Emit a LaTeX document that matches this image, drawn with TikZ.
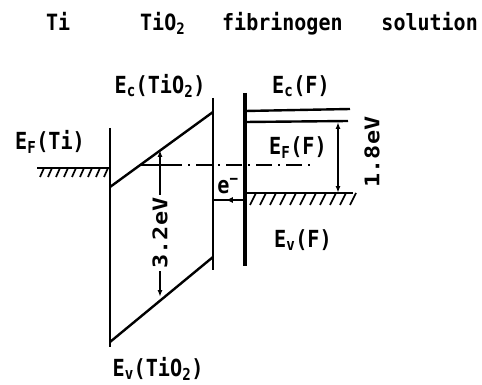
\documentclass[tikz,border=0pt]{standalone}
\usepackage{fontspec}
\newfontfamily\lab{DejaVu Sans Mono}
\usetikzlibrary{arrows.meta,decorations.markings}
\newcommand\sbs[1]{\textsubscript{#1}}
\begin{document}
\begin{tikzpicture}[x=1pt,y=-1pt,
  lbl/.style={font=\lab\bfseries\fontsize{21}{24}\selectfont, inner sep=0pt, xscale=0.96, yscale=1.12},
  ttl/.style={font=\lab\bfseries\fontsize{20}{24}\selectfont, inner sep=0pt, yscale=1.12},
  band/.style={line width=2.4pt},
  thickwall/.style={line width=3.4pt},
  hatch/.style={line width=1.7pt},
  fermi/.style={line width=1.6pt, dash pattern=on 16pt off 6pt on 2pt off 6pt},
  gaparrow/.style={line width=1.5pt, {Latex[length=7pt,width=5pt]}-{Latex[length=7pt,width=5pt]}},
  elarrow/.style={line width=1.7pt, postaction={decorate},
     decoration={markings, mark=at position 0.6 with {\arrow{Latex[length=7pt,width=6pt]}}}}
]
\useasboundingbox (0,0) rectangle (482,385);

% title
\node[ttl, anchor=base west] (tTi) at (46,31) {Ti};
\node[ttl, anchor=base west] (tTiO) at (140,31) {TiO\sbs{2}};
\node[ttl, anchor=base west] (tFib) at (222,31) {fibrinogen};
\node[ttl, anchor=base east] (tSol) at (478,31) {solution};

% coordinates
\coordinate (LT) at (110,128);
\coordinate (LB) at (110,347);
\coordinate (RT) at (213,98);
\coordinate (RB) at (213,270);
\coordinate (CBl) at (110,187);
\coordinate (CBr) at (213,112);
\coordinate (VBl) at (110,342);
\coordinate (VBr) at (213,257);
\coordinate (ST) at (245,93);
\coordinate (SB) at (245,266);

% Ti / TiO2 walls
\draw[band] (LT) -- (LB);
\draw[band] (RT) -- (RB);
\draw[thickwall] (ST) -- (SB);

% TiO2 bands
\draw[band] (CBl) -- (CBr);
\draw[band] (VBl) -- (VBr);

% Ti Fermi level with hatching
\coordinate (TFa) at (37,168);
\coordinate (TFb) at (110,168);
\draw[band] (TFa) -- (TFb);
\foreach \x in {44,52,...,108} \draw[hatch] (\x,168) -- ++(-4,9);

% fibrinogen bands
\coordinate (Fc1a) at (245,111); \coordinate (Fc1b) at (350,109);
\coordinate (Fc2a) at (245,122); \coordinate (Fc2b) at (348,121);
\draw[band] (Fc1a) -- (Fc1b);
\draw[band] (Fc2a) -- (Fc2b);
\coordinate (Fva) at (245,193); \coordinate (Fvb) at (353,193);
\draw[band] (Fva) -- (Fvb);
\foreach \x in {256,266,...,356} \draw[hatch] (\x,193) -- ++(-6,12);

% Fermi level line (dash-dot)
\coordinate (FLa) at (139,165);
\coordinate (FLm) at (166,165);
\coordinate (FLb) at (312,165);
\draw[line width=1.6pt] (FLa) -- (FLm);
\draw[fermi] (FLm) -- (FLb);

% 3.2 eV gap arrow
\coordinate (G1) at (160,150);
\coordinate (G2) at (160,297);
\draw[gaparrow] (G1) -- (G2);
\node[lbl, rotate=90, fill=white, inner sep=2pt] (gap) at (160,233) {3.2eV};

% 1.8 eV arrow
\coordinate (H1) at (338,122);
\coordinate (H2) at (338,193);
\draw[gaparrow] (H1) -- (H2);
\node[lbl, rotate=90] (gapF) at (372,152) {1.8eV};

% electron transfer
\coordinate (eS) at (245,200);
\coordinate (eT) at (213,200);
\draw[elarrow] (eS) -- (eT);
\node[lbl] (el) at (228,186) {e\textsuperscript{−}};

% labels
\node[lbl] (EcT) at (160,86) {E\sbs{c}(TiO\sbs{2})};
\node[lbl] (EcF) at (301,86) {E\sbs{c}(F)};
\node[lbl] (EfT) at (50,142) {E\sbs{F}(Ti)};
\node[lbl] (EfF) at (298,148) {E\sbs{F}(F)};
\node[lbl] (EvF) at (303,240) {E\sbs{v}(F)};
\node[lbl] (EvT) at (158,369) {E\sbs{v}(TiO\sbs{2})};
\end{tikzpicture}
\end{document}
